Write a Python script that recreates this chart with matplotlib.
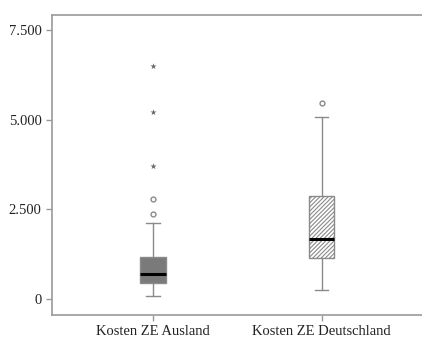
import matplotlib
matplotlib.use("Agg")
import matplotlib.pyplot as plt
from matplotlib.ticker import FuncFormatter

categories = ["Kosten ZE Ausland", "Kosten ZE Deutschland"]
q1 = [455, 1150]
med = [700, 1665]
q3 = [1170, 2870]
whislo = [80, 255]
whishi = [2110, 5065]
outliers = [[2380, 2780], [5475]]
extremes = [[3700, 5215, 6505], []]

plt.rcParams['font.family'] = ['Liberation Serif', 'DejaVu Serif']
plt.rcParams['hatch.color'] = '#9a9a9a'
plt.rcParams['hatch.linewidth'] = 0.8

fig = plt.figure(figsize=(4.22, 3.38), dpi=100)
ax = fig.add_axes([52 / 422, 1 - 315 / 338, 1 - 52 / 422 + 0.002, 300 / 338])

stats = []
for i in range(len(categories)):
    stats.append(dict(q1=q1[i], med=med[i], q3=q3[i], whislo=whislo[i],
                      whishi=whishi[i], fliers=outliers[i], label=categories[i]))

bp = ax.bxp(stats, positions=[1, 2], widths=0.15, patch_artist=True,
            showfliers=True,
            boxprops=dict(edgecolor='#8a8a8a', linewidth=1.0),
            whiskerprops=dict(color='#8a8a8a', linewidth=1.0),
            capprops=dict(color='#8a8a8a', linewidth=1.0),
            medianprops=dict(color='black', linewidth=2.2),
            flierprops=dict(marker='o', markersize=3.5, markerfacecolor='white',
                            markeredgecolor='#8a8a8a', markeredgewidth=1.0))
for cap in bp['caps']:
    x0, x1 = cap.get_xdata()
    c = (x0 + x1) / 2
    cap.set_xdata([c - 0.04, c + 0.04])

bp['boxes'][0].set_facecolor('#7a7a7a')
bp['boxes'][1].set_facecolor('white')
bp['boxes'][1].set_hatch('////////')

for i, ext in enumerate(extremes):
    if ext:
        ax.scatter([i + 1] * len(ext), ext, marker='*', s=22, color='#6a6a6a',
                   linewidths=0, zorder=3)

ax.set_xlim(0.4, 2.6)
ax.set_ylim(-446, 7918)
ax.set_yticks([0, 2500, 5000, 7500])
ax.yaxis.set_major_formatter(FuncFormatter(lambda v, p: f"{int(v):,}".replace(",", ".")))
ax.set_xticks([1, 2])
ax.set_xticklabels(categories)

for s in ['left', 'bottom', 'top', 'right']:
    ax.spines[s].set_color('#9a9a9a')
    ax.spines[s].set_linewidth(1.2)
ax.tick_params(colors='#9a9a9a', labelcolor='#222222', labelsize=10.5,
               length=4, width=1.0)

fig.savefig("out.png", dpi=100)
